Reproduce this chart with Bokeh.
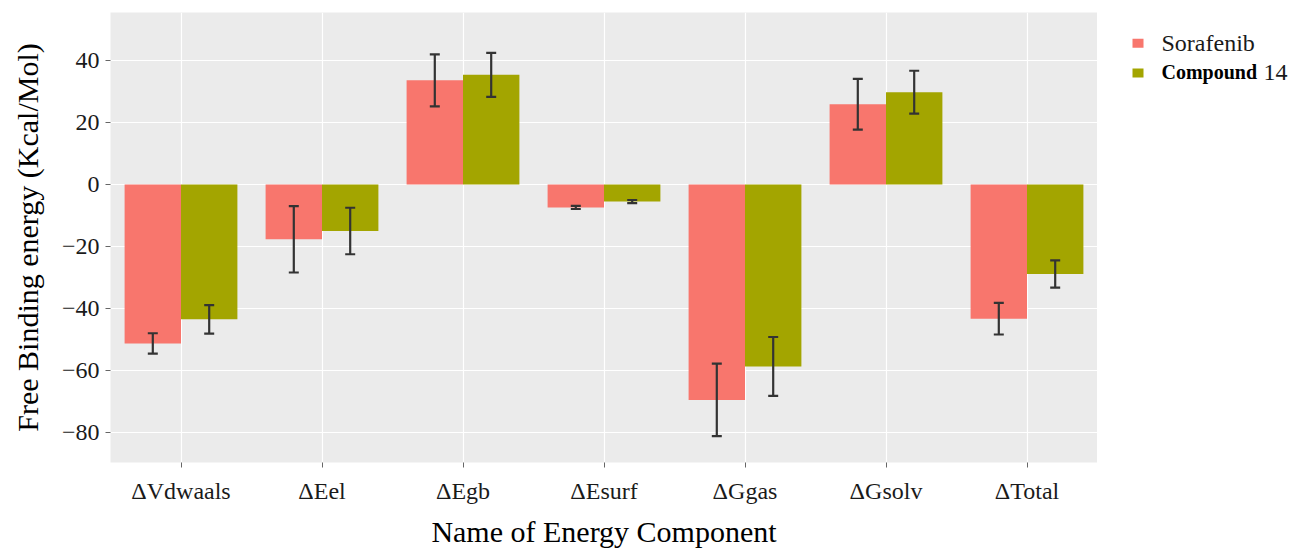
from bokeh.plotting import figure
from bokeh.models import ColumnDataSource, Whisker, FactorRange, Range1d, FixedTicker
from bokeh.transform import dodge
from bokeh.layouts import row
from bokeh.core.properties import value
from bokeh.embed import file_html
from bokeh.resources import INLINE

categories = ["ΔVdwaals", "ΔEel", "ΔEgb", "ΔEsurf", "ΔGgas", "ΔGsolv", "ΔTotal"]
series_names = ["Sorafenib", "Compound", "14"]
sorafenib = [-51.3, -17.7, 33.6, -7.4, -69.5, 25.9, -43.3]
sorafenib_err = [3.3, 10.7, 8.4, 0.5, 11.7, 8.2, 5.1]
compound14 = [-43.5, -15.0, 35.4, -5.5, -58.7, 29.8, -28.9]
compound14_err = [4.6, 7.5, 7.1, 0.5, 9.5, 6.9, 4.4]
y_ticks = [-80, -60, -40, -20, 0, 20, 40]

colors = ["#F8766D", "#A3A500"]
FONT = "Liberation Serif"

src = ColumnDataSource(dict(
    cat=categories,
    s=sorafenib,
    s_lo=[v - e for v, e in zip(sorafenib, sorafenib_err)],
    s_hi=[v + e for v, e in zip(sorafenib, sorafenib_err)],
    c=compound14,
    c_lo=[v - e for v, e in zip(compound14, compound14_err)],
    c_hi=[v + e for v, e in zip(compound14, compound14_err)],
))

p = figure(
    width=1097, height=550,
    x_range=FactorRange(factors=categories, range_padding=0),
    y_range=Range1d(-89.7, 55.5),
    output_backend="svg", toolbar_location=None,
    min_border_left=110, min_border_right=0, min_border_top=12, min_border_bottom=88,
)
p.background_fill_color = "#EBEBEB"
p.outline_line_color = None
p.border_fill_color = "white"

p.vbar(x=dodge("cat", -0.2, range=p.x_range), top="s", bottom=0, width=0.4,
       source=src, fill_color=colors[0], line_color=None)
p.vbar(x=dodge("cat", 0.2, range=p.x_range), top="c", bottom=0, width=0.4,
       source=src, fill_color=colors[1], line_color=None)

for off, lo, hi in [(-0.2, "s_lo", "s_hi"), (0.2, "c_lo", "c_hi")]:
    w = Whisker(base=dodge("cat", off, range=p.x_range), lower=lo, upper=hi, source=src,
                line_color="#333333", line_width=2.2, level="overlay")
    for h in (w.upper_head, w.lower_head):
        h.size = 10
        h.line_color = "#333333"
        h.line_width = 2.2
    p.add_layout(w)

p.xgrid.grid_line_color = "white"
p.xgrid.grid_line_width = 1.2
p.ygrid.grid_line_color = "white"
p.ygrid.grid_line_width = 1.2
p.yaxis.ticker = FixedTicker(ticks=y_ticks)

for ax in (p.xaxis[0], p.yaxis[0]):
    ax.axis_line_color = None
    ax.major_tick_line_color = "#666666"
    ax.major_tick_out = 5
    ax.major_tick_in = 0
    ax.minor_tick_line_color = None
    ax.major_label_text_font = FONT
    ax.major_label_text_font_size = "24px"
    ax.major_label_text_color = "#1a1a1a"
    ax.axis_label_text_font = FONT
    ax.axis_label_text_font_size = "30px"
    ax.axis_label_text_font_style = "normal"
    ax.axis_label_text_color = "black"

p.xaxis.axis_label = "Name of Energy Component"
p.yaxis.axis_label = "Free Binding energy (Kcal/Mol)"
p.xaxis.major_label_standoff = 10
p.yaxis.major_label_standoff = 6
p.xaxis.axis_label_standoff = 8
p.yaxis.axis_label_standoff = 15
p.yaxis.major_label_overrides = {t: str(t).replace("-", "\u2212") for t in y_ticks}

# legend panel (separate figure so that mixed bold/regular text is possible)
lg = figure(width=200, height=550, x_range=Range1d(0, 200), y_range=Range1d(550, 0),
            output_backend="svg", toolbar_location=None,
            min_border_left=0, min_border_right=0, min_border_top=0, min_border_bottom=0)
lg.axis.visible = False
lg.grid.visible = False
lg.outline_line_color = None
lg.background_fill_color = "white"
lg.border_fill_color = "white"

lg.rect(x=[40.5, 40.5], y=[37.5, 74], width=11, height=11, fill_color=colors, line_color=None)
lg.text(x=[64], y=[37], text=[series_names[0]], text_font=value(FONT), text_font_size="24px",
        text_font_style="normal", text_baseline="middle", text_color="#1a1a1a")
lg.text(x=[64], y=[73], text=[series_names[1]], text_font=value(FONT), text_font_size="20px",
        text_font_style="bold", text_baseline="middle", text_color="black")
lg.text(x=[166], y=[73], text=[series_names[2]], text_font=value(FONT), text_font_size="24px",
        text_font_style="normal", text_baseline="middle", text_color="#1a1a1a")

layout = row(p, lg)
open("out.html", "w").write(file_html(layout, INLINE))
